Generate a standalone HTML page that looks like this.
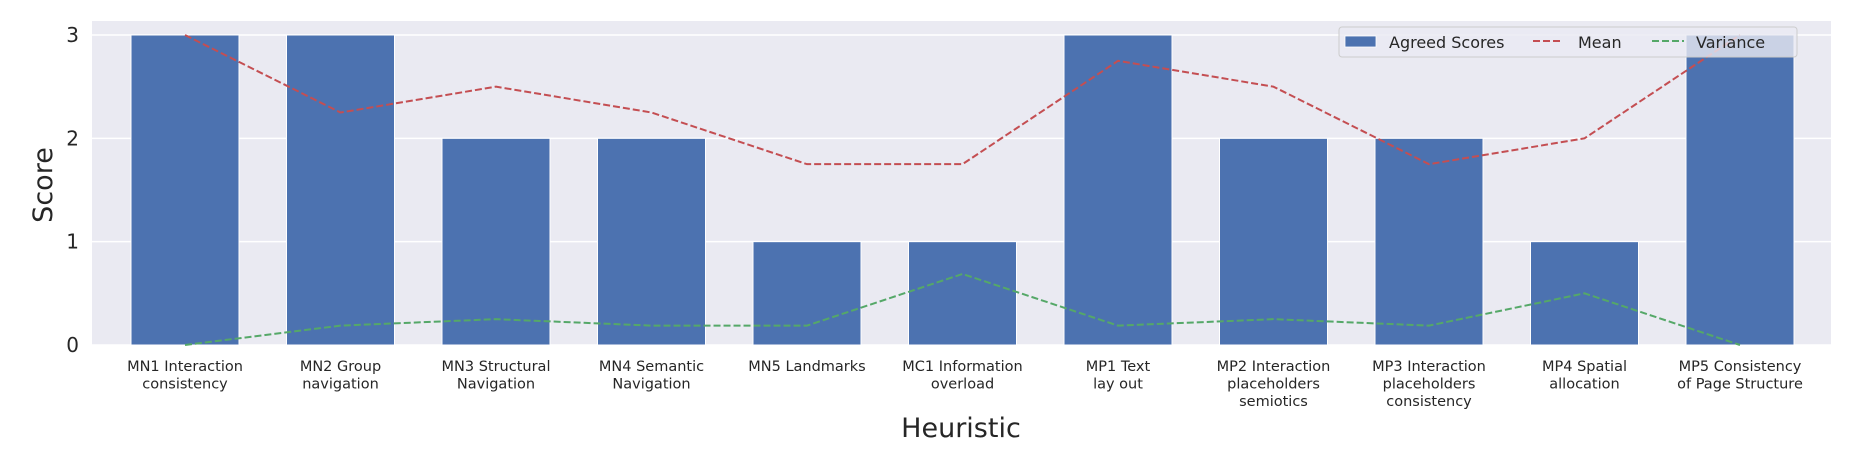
<!DOCTYPE html>
<html><head><meta charset="utf-8"><style>
html,body{margin:0;padding:0;background:#fff;}
svg{display:block;font-family:"DejaVu Sans","Liberation Sans",sans-serif;}
</style></head><body>
<svg id="chart" width="1853" height="455" viewBox="0 0 1853 455" xmlns="http://www.w3.org/2000/svg">
<rect x="92" y="21" width="1739" height="324" fill="#eaeaf2"/>
<g id="grid"></g>
<g id="bars"></g>
<g id="lines"></g>
<g id="yticks"></g>
<g id="xticks"></g>
<text transform="translate(52,185) rotate(-90)" text-anchor="middle" font-size="27" fill="#262626">Score</text>
<text x="961" y="437" text-anchor="middle" font-size="27" fill="#262626">Heuristic</text>
<g>
<rect x="1339" y="27" width="458" height="30" rx="3" fill="#eaeaf2" fill-opacity="0.8" stroke="#cccccc" stroke-width="1"/>
<g>
<rect x="1345" y="36" width="31" height="11" fill="#4c72b0" stroke="#fff" stroke-width="0.8"/>
<text x="1389" y="48" font-size="16" fill="#262626">Agreed Scores</text></g>
<g>
<line x1="1533" y1="41" x2="1562" y2="41" stroke="#c44e52" stroke-width="2" stroke-dasharray="7,3"/>
<text x="1578" y="48" font-size="16" fill="#262626">Mean</text></g>
<g>
<line x1="1652" y1="41" x2="1684" y2="41" stroke="#55a868" stroke-width="2" stroke-dasharray="7,3"/>
<text x="1696" y="48" font-size="16" fill="#262626">Variance</text></g>
</g>
</svg>
<script>
const categories = [
 ["MN1 Interaction","consistency"],["MN2 Group","navigation"],["MN3 Structural","Navigation"],
 ["MN4 Semantic","Navigation"],["MN5 Landmarks"],["MC1 Information","overload"],
 ["MP1 Text","lay out"],["MP2 Interaction","placeholders","semiotics"],
 ["MP3 Interaction","placeholders","consistency"],["MP4 Spatial","allocation"],
 ["MP5 Consistency","of Page Structure"]];
const agreedScores = [3,3,2,2,1,1,3,2,2,1,3];
const meanScores = [3,2.25,2.5,2.25,1.75,1.75,2.75,2.5,1.75,2,3];
const varianceScores = [0,0.1875,0.25,0.1875,0.1875,0.6875,0.1875,0.25,0.1875,0.5,0];
const yTicks = [0,1,2,3];

const NS="http://www.w3.org/2000/svg";
const step=155.5, x0=185;
function xScale(i){return x0+i*step;}
function yScale(v){return 345 - v*103.33;}
function mk(tag,attrs,parent){const e=document.createElementNS(NS,tag);for(const k in attrs)e.setAttribute(k,attrs[k]);parent.appendChild(e);return e;}

const grid=document.getElementById('grid');
const yt=document.getElementById('yticks');
yTicks.forEach(t=>{
 const l=mk('line',{x1:92,x2:1831,y1:yScale(t),y2:yScale(t),stroke:'#fff','stroke-width':1.5},grid);
 
 
 const tx=mk('text',{x:79,y:yScale(t)+7,'text-anchor':'end','font-size':20,fill:'#262626'},yt);
 tx.textContent=t;
 
 
});
const bars=document.getElementById('bars');
agreedScores.forEach((v,i)=>{
 const w=108;
 const r=mk('rect',{x:xScale(i)-w/2,y:yScale(v),width:w,height:yScale(0)-yScale(v),fill:'#4c72b0',stroke:'#fff','stroke-width':1},bars);
 
 
});
const lines=document.getElementById('lines');
function path(arr,color,name){
 const d=arr.map((v,i)=>(i?'L':'M')+xScale(i)+','+yScale(v)).join(' ');
 const p=mk('path',{d:d,fill:'none',stroke:color,'stroke-width':2,'stroke-dasharray':'7,3'},lines);
 
 
}
path(meanScores,'#c44e52','mean-line');
path(varianceScores,'#55a868','variance-line');
const xt=document.getElementById('xticks');
categories.forEach((c,i)=>{
 const t=mk('text',{'text-anchor':'middle','font-size':14.5,fill:'#262626'},xt);
 
 
 c.forEach((s,j)=>{const ts=mk('tspan',{x:xScale(i),y:371+j*17.5},t);ts.textContent=s;});
});
</script>
</body></html>
